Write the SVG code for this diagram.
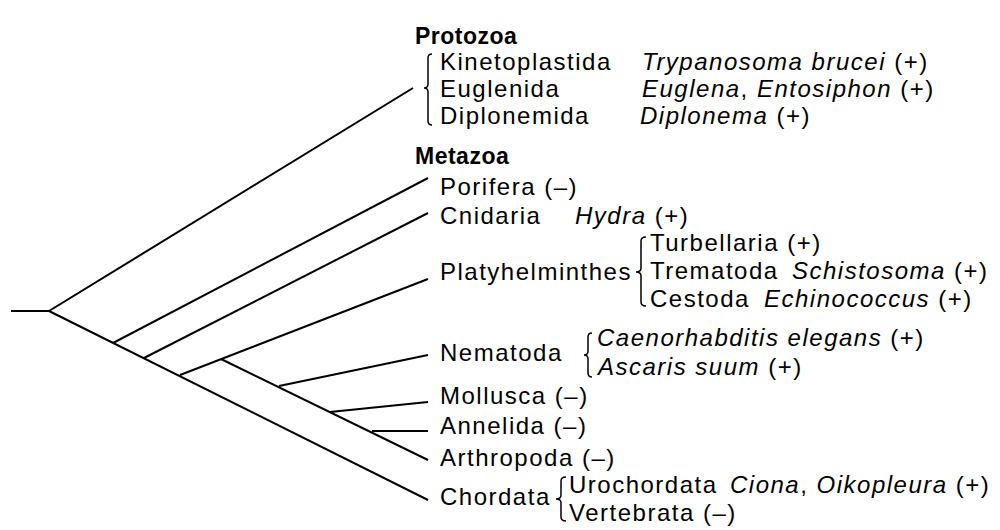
<svg xmlns="http://www.w3.org/2000/svg" width="1000" height="530" viewBox="0 0 1000 530">
<style>
.t{font-family:"Liberation Sans",Arial,sans-serif;font-size:24px;letter-spacing:1.5px;fill:#000}
.h{font-family:"Liberation Sans",Arial,sans-serif;font-size:23px;letter-spacing:0.5px;font-weight:bold;fill:#000}
.i{font-style:italic}
.ln{stroke:#000;stroke-width:2;fill:none;stroke-linecap:butt}
.br{stroke:#000;stroke-width:1.5;fill:none}
</style>
<rect width="1000" height="530" fill="#fff"/>
<g id="connectors">
<line class="ln" x1="11" y1="311" x2="49" y2="311"/>
<line class="ln" x1="49" y1="311" x2="413" y2="88"/>
<line class="ln" x1="49" y1="311" x2="428" y2="500"/>
<line class="ln" x1="113" y1="343" x2="428" y2="178"/>
<line class="ln" x1="144" y1="358" x2="428" y2="213"/>
<line class="ln" x1="180" y1="375" x2="428" y2="279"/>
<line class="ln" x1="221" y1="359" x2="428" y2="460"/>
<line class="ln" x1="279" y1="386" x2="428" y2="355"/>
<line class="ln" x1="330" y1="412" x2="428" y2="402"/>
<line class="ln" x1="372" y1="431" x2="428" y2="431"/>
</g>
<g id="protozoa">
<text class="h" x="415" y="44">Protozoa</text>
<path class="br" d="M432,54 Q428,54 428,58 L428,84 Q428,88 424,88 Q428,88 428,92 L428,121 Q428,125 432,125"/>
<text class="t" x="440" y="70">Kinetoplastida</text>
<text class="t" x="642" y="70"><tspan class="i">Trypanosoma brucei</tspan> (+)</text>
<text class="t" x="440" y="97">Euglenida</text>
<text class="t" x="642" y="97"><tspan class="i">Euglena</tspan>, <tspan class="i">Entosiphon</tspan> (+)</text>
<text class="t" x="440" y="124">Diplonemida</text>
<text class="t" x="640" y="124"><tspan class="i">Diplonema</tspan> (+)</text>
</g>
<g id="metazoa">
<text class="h" x="415" y="164">Metazoa</text>
</g>
<g id="porifera">
<text class="t" x="440" y="195">Porifera (–)</text>
</g>
<g id="cnidaria">
<text class="t" x="440" y="224">Cnidaria</text>
<text class="t" x="575" y="224"><tspan class="i">Hydra</tspan> (+)</text>
</g>
<g id="platyhelminthes">
<text class="t" x="440" y="280">Platyhelminthes</text>
<path class="br" d="M646,237 Q641,237 641,241 L641,268 Q641,272 636,272 Q641,272 641,276 L641,302 Q641,306 646,306"/>
<text class="t" x="650" y="251">Turbellaria (+)</text>
<text class="t" x="650" y="279">Trematoda</text>
<text class="t" x="792" y="279"><tspan class="i">Schistosoma</tspan> (+)</text>
<text class="t" x="650" y="307">Cestoda</text>
<text class="t" x="764" y="307"><tspan class="i">Echinococcus</tspan> (+)</text>
</g>
<g id="nematoda">
<text class="t" x="440" y="361">Nematoda</text>
<path class="br" d="M592,333 Q588,333 588,337 L588,351 Q588,355 584,355 Q588,355 588,359 L588,373 Q588,377 592,377"/>
<text class="t" x="597" y="346"><tspan class="i">Caenorhabditis elegans</tspan> (+)</text>
<text class="t" x="598" y="375"><tspan class="i">Ascaris suum</tspan> (+)</text>
</g>
<g id="mollusca">
<text class="t" x="440" y="404">Mollusca (–)</text>
</g>
<g id="annelida">
<text class="t" x="440" y="434">Annelida (–)</text>
</g>
<g id="arthropoda">
<text class="t" x="440" y="466">Arthropoda (–)</text>
</g>
<g id="chordata">
<text class="t" x="440" y="505">Chordata</text>
<path class="br" d="M566,477 Q561,477 561,481 L561,495 Q561,499 556,499 Q561,499 561,503 L561,517 Q561,521 566,521"/>
<text class="t" x="569" y="493">Urochordata</text>
<text class="t" x="730" y="493"><tspan class="i">Ciona</tspan>, <tspan class="i">Oikopleura</tspan> (+)</text>
<text class="t" x="569" y="521">Vertebrata (–)</text>
</g>
</svg>
